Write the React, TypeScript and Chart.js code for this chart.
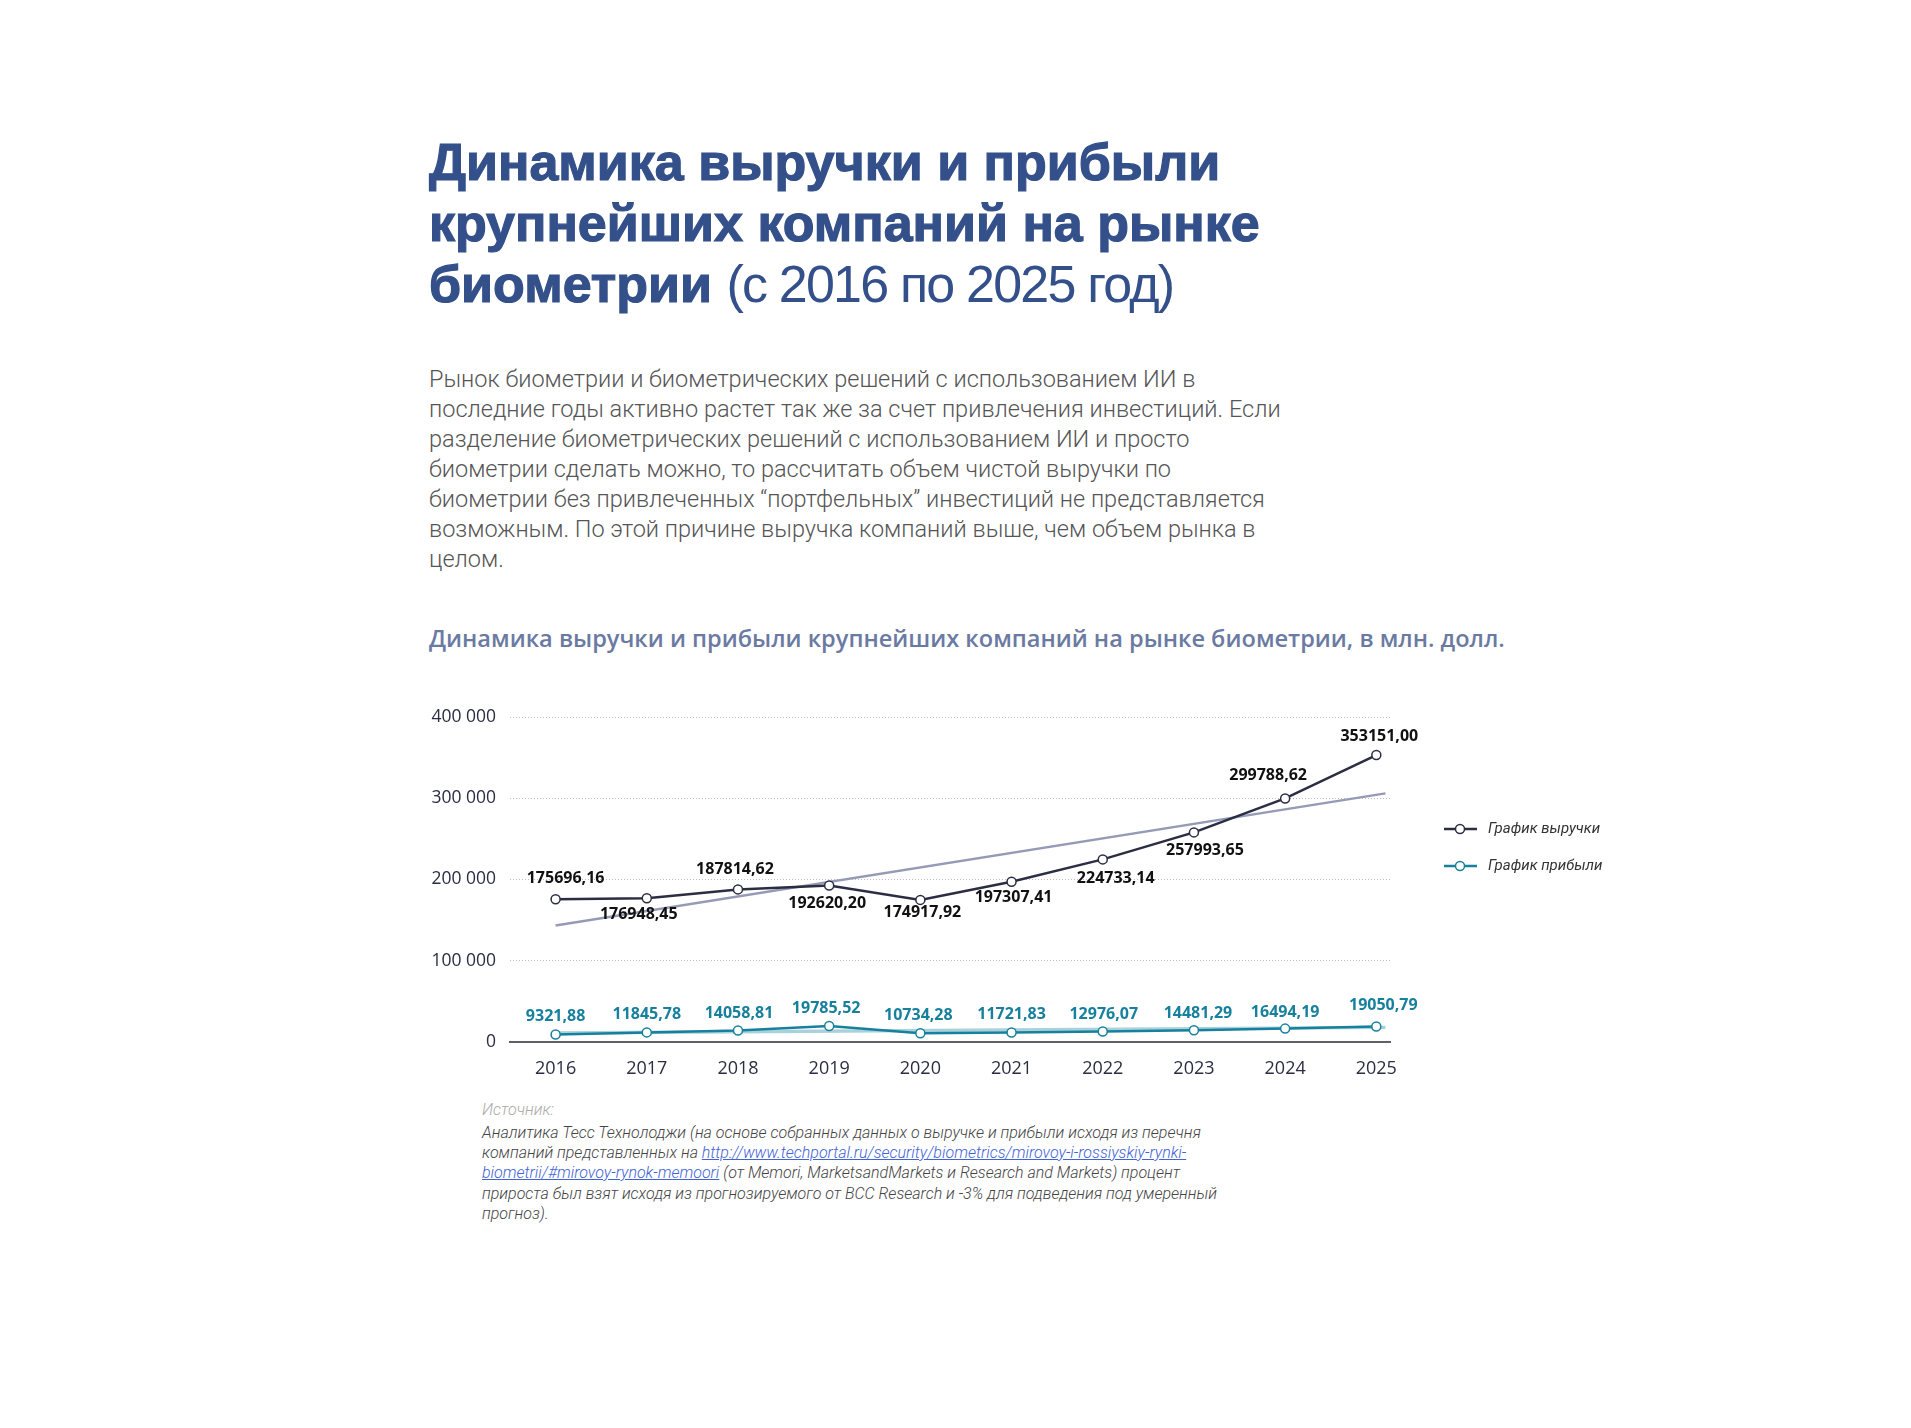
import React, { useEffect, useRef } from 'react';
import { Chart, registerables } from 'chart.js';

Chart.register(...registerables);

// ---------- data ----------
const years = ['2016', '2017', '2018', '2019', '2020', '2021', '2022', '2023', '2024', '2025'];
const revenue = [175696.16, 176948.45, 187814.62, 192620.2, 174917.92, 197307.41, 224733.14, 257993.65, 299788.62, 353151.0];
const profit = [9321.88, 11845.78, 14058.81, 19785.52, 10734.28, 11721.83, 12976.07, 14481.29, 16494.19, 19050.79];
// trend lines (start, end)
const trendYears = [2016, 2025.1];
const revenueTrend = [143500, 306000];
const profitTrend = [11000, 18000];
const yTicks = [0, 100000, 200000, 300000, 400000];
const legendLabels = ['График выручки', 'График прибыли'];

// ---------- styles ----------
const C_TITLE = '#34508a';
const C_REV = '#2b2d42';
const C_PROF = '#17809c';
const C_REV_TREND = '#959ab6';
const C_PROF_TREND = '#a9d1dc';

// label offsets (dx, dy) relative to the point
const revLabelOffsets: [number, number][] = [
  [10, -21], [-8, 16], [-3, -20], [-2, 18], [2, 13], [2, 16], [13, 19], [11, 18], [-17, -23], [3, -19],
];
const profLabelOffsets: [number, number][] = [
  [0, -18], [0, -18], [1, -17], [-3, -17], [-2, -18], [0, -18], [1, -17], [4, -17], [0, -16], [7, -21],
];

const fmtVal = (v: number) => v.toFixed(2).replace('.', ',');
const fmtTick = (v: number) => String(Math.round(v)).replace(/\B(?=(\d{3})+(?!\d))/g, ' ');

const valueLabelPlugin = {
  id: 'valueLabels',
  afterDatasetsDraw(chart: any) {
    const ctx = chart.ctx;
    const sets = [
      { idx: 0, values: revenue, offs: revLabelOffsets, color: '#111111' },
      { idx: 1, values: profit, offs: profLabelOffsets, color: C_PROF },
    ];
    ctx.save();
    ctx.font = 'bold 16px "Open Sans"';
    ctx.textAlign = 'center';
    ctx.textBaseline = 'middle';
    sets.forEach((s) => {
      const meta = chart.getDatasetMeta(s.idx);
      ctx.fillStyle = s.color;
      meta.data.forEach((pt: any, j: number) => {
        const o = s.offs[j];
        ctx.fillText(fmtVal(s.values[j]), pt.x + o[0], pt.y + o[1]);
      });
    });
    ctx.restore();
  },
};

const legendPlugin = {
  id: 'customLegend',
  afterDraw(chart: any) {
    const ctx = chart.ctx;
    const area = chart.chartArea;
    const x0 = area.right + 54;
    const ys = [area.top + 112, area.top + 149];
    const colors = [C_REV, C_PROF];
    ctx.save();
    legendLabels.forEach((lab, i) => {
      const y = ys[i];
      ctx.strokeStyle = colors[i];
      ctx.lineWidth = 2.5;
      ctx.beginPath();
      ctx.moveTo(x0, y);
      ctx.lineTo(x0 + 33, y);
      ctx.stroke();
      ctx.beginPath();
      ctx.arc(x0 + 16, y, 4.5, 0, Math.PI * 2);
      ctx.fillStyle = '#ffffff';
      ctx.fill();
      ctx.lineWidth = 1.5;
      ctx.stroke();
      ctx.fillStyle = '#333333';
      ctx.font = 'italic 15px Roboto';
      ctx.textAlign = 'left';
      ctx.textBaseline = 'middle';
      ctx.fillText(lab, x0 + 44, y);
    });
    ctx.restore();
  },
};

function ChartBox() {
  const ref = useRef<HTMLCanvasElement | null>(null);
  useEffect(() => {
    if (!ref.current) return;
    const chart = new Chart(ref.current, {
      type: 'line',
      data: {
        datasets: [
          {
            label: legendLabels[0],
            data: years.map((y, i) => ({ x: Number(y), y: revenue[i] })),
            borderColor: C_REV,
            borderWidth: 2.5,
            pointRadius: 4.5,
            pointBorderWidth: 1.5,
            pointBackgroundColor: '#ffffff',
            pointBorderColor: C_REV,
            tension: 0,
            order: 0,
          },
          {
            label: legendLabels[1],
            data: years.map((y, i) => ({ x: Number(y), y: profit[i] })),
            borderColor: C_PROF,
            borderWidth: 2.5,
            pointRadius: 4.5,
            pointBorderWidth: 1.5,
            pointBackgroundColor: '#ffffff',
            pointBorderColor: C_PROF,
            tension: 0,
            order: 1,
          },
          {
            label: 'trend1',
            data: trendYears.map((x, i) => ({ x, y: revenueTrend[i] })),
            borderColor: C_REV_TREND,
            borderWidth: 2.5,
            pointRadius: 0,
            order: 2,
          },
          {
            label: 'trend2',
            data: trendYears.map((x, i) => ({ x, y: profitTrend[i] })),
            borderColor: C_PROF_TREND,
            borderWidth: 3.5,
            pointRadius: 0,
            order: 3,
          },
        ],
      },
      options: {
        animation: false,
        responsive: false,
        devicePixelRatio: 1,
        layout: { padding: { top: 27, right: 310, bottom: 0, left: 0 } },
        plugins: { legend: { display: false }, tooltip: { enabled: false } },
        scales: {
          x: {
            type: 'linear',
            min: 2015.5,
            max: 2025.15,
            afterBuildTicks: (axis: any) => {
              axis.ticks = years.map((y) => ({ value: Number(y) }));
            },
            afterFit: (axis: any) => {
              axis.height = 48;
            },
            grid: { display: false, drawTicks: false },
            border: { display: true, color: '#5f6068', width: 2 },
            ticks: {
              padding: 16,
              color: C_REV,
              font: { family: 'Open Sans', size: 18 },
              callback: (v: any) => String(v),
              maxRotation: 0,
              autoSkip: false,
            },
          },
          y: {
            min: 0,
            max: 400000,
            afterBuildTicks: (axis: any) => {
              axis.ticks = yTicks.map((v) => ({ value: v }));
            },
            afterFit: (axis: any) => {
              axis.width = 90;
            },
            grid: {
              drawTicks: false,
              color: (c: any) => (c.tick && c.tick.value === 0 ? 'rgba(0,0,0,0)' : '#bdbdbd'),
              lineWidth: 1,
            },
            border: { display: false, dash: [1, 2] },
            ticks: {
              padding: 14,
              color: C_REV,
              font: { family: 'Open Sans', size: 17.5 },
              callback: (v: any) => fmtTick(Number(v)),
            },
          },
        },
      },
      plugins: [valueLabelPlugin, legendPlugin],
    } as any);
    return () => chart.destroy();
  }, []);
  return <canvas ref={ref} width={1280} height={400} style={{ width: 1280, height: 400, display: 'block' }} />;
}

const O = 8; // body margin

export default function App() {
  const abs = (left: number, top: number): React.CSSProperties => ({
    position: 'absolute',
    left: left - O,
    top: top - O,
    whiteSpace: 'nowrap',
  });
  const heavy: React.CSSProperties = { fontWeight: 700, WebkitTextStroke: `1.2px ${C_TITLE}` } as any;
  return (
    <div style={{ position: 'relative', width: 1895, height: 1412, background: '#ffffff' }}>
      <div
        style={{
          ...abs(429, 132),
          fontFamily: '"Liberation Sans", Arial, sans-serif',
          fontSize: 52,
          lineHeight: '61px',
          color: C_TITLE,
        }}
      >
        <span style={heavy}>Динамика выручки и прибыли</span>
        <br />
        <span style={heavy}>крупнейших компаний на рынке</span>
        <br />
        <span style={heavy}>биометрии</span>{' '}
        <span style={{ fontWeight: 400, letterSpacing: '-1.8px' }}>(с 2016 по 2025 год)</span>
      </div>

      <div
        style={{
          ...abs(429, 364),
          fontFamily: 'Roboto, sans-serif',
          fontWeight: 300,
          fontSize: 23.5,
          lineHeight: '30px',
          color: '#555555',
        }}
      >
        Рынок биометрии и биометрических решений с использованием ИИ в<br />
        последние годы активно растет так же за счет привлечения инвестиций. Если<br />
        разделение биометрических решений с использованием ИИ и просто<br />
        биометрии сделать можно, то рассчитать объем чистой выручки по<br />
        биометрии без привлеченных “портфельных” инвестиций не представляется<br />
        возможным. По этой причине выручка компаний выше, чем объем рынка в<br />
        целом.
      </div>

      <div
        style={{
          ...abs(429, 623),
          fontFamily: '"Open Sans", sans-serif',
          fontWeight: 600,
          fontSize: 23.6,
          lineHeight: '30px',
          color: '#6b7aa2',
        }}
      >
        Динамика выручки и прибыли крупнейших компаний на рынке биометрии, в млн. долл.
      </div>

      <div style={{ ...abs(420, 690) }}>
        <ChartBox />
      </div>

      <div
        style={{
          ...abs(482, 1100),
          fontFamily: 'Roboto, sans-serif',
          fontStyle: 'italic',
          fontWeight: 300,
          fontSize: 16,
          lineHeight: '20px',
          color: '#aaaaaa',
        }}
      >
        Источник:
      </div>
      <div
        style={{
          ...abs(482, 1123),
          fontFamily: 'Roboto, sans-serif',
          fontStyle: 'italic',
          fontWeight: 300,
          fontSize: 16,
          lineHeight: '20.2px',
          color: '#444444',
        }}
      >
        Аналитика Тесс Технолоджи (на основе собранных данных о выручке и прибыли исходя из перечня<br />
        компаний представленных на{' '}
        <a href="#" style={{ color: '#3f63d6', textDecoration: 'underline' }}>
          http://www.techportal.ru/security/biometrics/mirovoy-i-rossiyskiy-rynki-
        </a>
        <br />
        <a href="#" style={{ color: '#3f63d6', textDecoration: 'underline' }}>
          biometrii/#mirovoy-rynok-memoori
        </a>{' '}
        (от Memori, MarketsandMarkets и Research and Markets) процент<br />
        прироста был взят исходя из прогнозируемого от BCC Research и -3% для подведения под умеренный<br />
        прогноз).
      </div>
    </div>
  );
}
